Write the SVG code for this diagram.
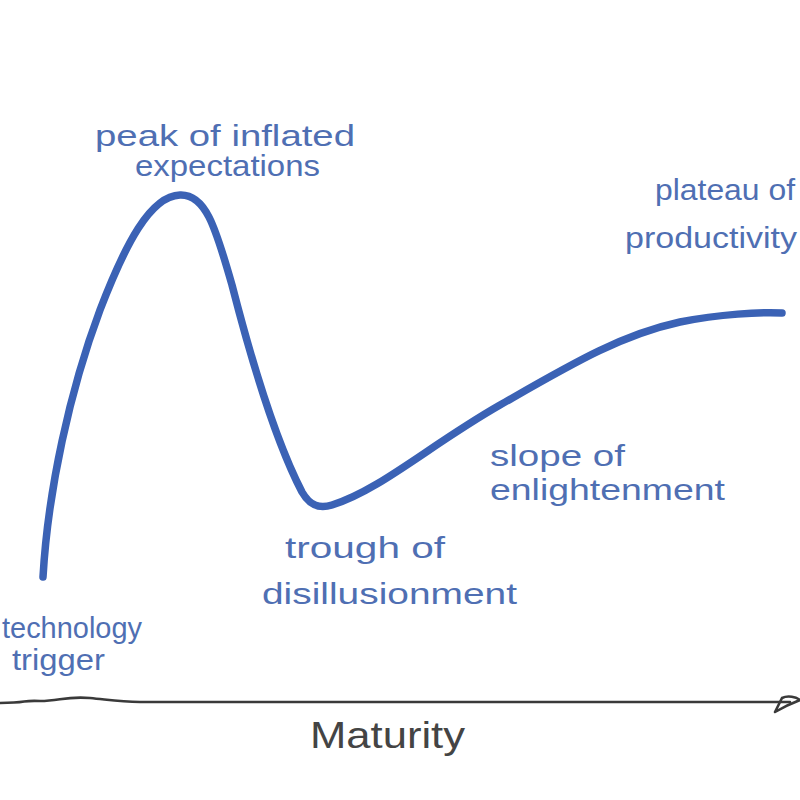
<svg xmlns="http://www.w3.org/2000/svg" width="800" height="800" viewBox="0 0 800 800">
<style>
.lbl{font-family:"Liberation Sans Narrow","Liberation Sans",Inter,sans-serif;font-size:30px;fill:#4f6fb3;}
.axis{fill:none;stroke:#3a3a3a;stroke-width:2.6;stroke-linecap:round;stroke-linejoin:round;}
.curve{fill:none;stroke:#3b62b5;stroke-width:7.5;stroke-linecap:round;stroke-linejoin:round;}
</style>
<rect width="800" height="800" fill="#ffffff"/>
<g id="axis">
<path class="axis" d="M0,703 C30,703 20,700 40,701 C60,701 65,696 90,698 C110,700 120,702 140,702 L790,702"/>
<path class="axis" d="M775,712 L782,698 C788,695 796,697 800,700 C792,703 785,706 775,712 Z"/>
<text class="lbl" x="310" y="748" textLength="155" lengthAdjust="spacingAndGlyphs" style="fill:#444;font-size:36px">Maturity</text>
</g>
<g id="connectors">
<path class="curve" d="M43,577 C48,490 70,390 100,310 C125,245 150,196 180,195 C205,194 215,225 232,285 C250,355 275,440 302,492 C310,506 320,509 332,505 C380,490 430,445 500,405 C570,365 620,335 680,322 C720,314 760,312 782,313"/>
</g>
<g id="peak"><text class="lbl" x="95" y="146" textLength="260" lengthAdjust="spacingAndGlyphs">peak of inflated</text>
<text class="lbl" x="135" y="176" textLength="185" lengthAdjust="spacingAndGlyphs">expectations</text></g>
<g id="plateau"><text class="lbl" x="655" y="200" textLength="140" lengthAdjust="spacingAndGlyphs">plateau of</text>
<text class="lbl" x="625" y="248" textLength="172" lengthAdjust="spacingAndGlyphs">productivity</text></g>
<g id="slope"><text class="lbl" x="490" y="466" textLength="135" lengthAdjust="spacingAndGlyphs">slope of</text>
<text class="lbl" x="490" y="500" textLength="235" lengthAdjust="spacingAndGlyphs">enlightenment</text></g>
<g id="trough"><text class="lbl" x="285" y="558" textLength="160" lengthAdjust="spacingAndGlyphs">trough of</text>
<text class="lbl" x="262" y="604" textLength="255" lengthAdjust="spacingAndGlyphs">disillusionment</text></g>
<g id="trigger"><text class="lbl" x="2" y="638" textLength="140" lengthAdjust="spacingAndGlyphs">technology</text>
<text class="lbl" x="12" y="670" textLength="93" lengthAdjust="spacingAndGlyphs">trigger</text></g>
</svg>
